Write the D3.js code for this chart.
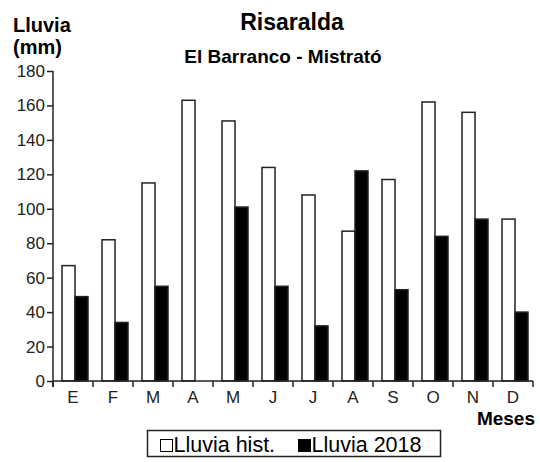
<!DOCTYPE html>
<html><head><meta charset="utf-8">
<script src="https://cdn.jsdelivr.net/npm/d3@7"></script>
<style>body{margin:0;background:#fff}svg{display:block;font-family:"Liberation Sans",Arial,sans-serif}</style>
</head><body>
<svg id="chart" width="540" height="462"></svg>
<script>
const months = ["E","F","M","A","M","J","J","A","S","O","N","D"];
const series = ["Lluvia hist.","Lluvia 2018"];
const lluviaHist = [67,82,115,163,151,124,108,87,117,162,156,94];
const lluvia2018 = [49,34,55,0,101,55,32,122,53,84,94,40];
const yTicks = [0,20,40,60,80,100,120,140,160,180];

const svg = d3.select("#chart");
const W = 540, H = 462;
const m = {left:53, right:7, top:71, bottom:81};
const x = d3.scaleBand().domain(d3.range(months.length)).range([m.left, W-m.right]).paddingInner(0).paddingOuter(0);
const y = d3.scaleLinear().domain([0,180]).range([H-m.bottom, m.top]);
const bw = x.bandwidth();
const x1 = d3.scaleBand().domain(series).range([bw*0.225, bw*0.875]);

const data = months.map((mo,i)=>({i, vals:[lluviaHist[i], lluvia2018[i]]}));
const g = svg.append("g");
const groups = g.selectAll("g.grp").data(data).join("g").attr("transform", d=>`translate(${x(d.i)},0)`);
groups.selectAll("rect").data(d=>d.vals.map((v,k)=>({k,v}))).join("rect")
  .filter(d=>d.v>0)
  .attr("x", d=>x1(series[d.k]))
  .attr("width", x1.bandwidth())
  .attr("y", d=>y(d.v))
  .attr("height", d=>y(0)-y(d.v))
  .attr("fill", d=>d.k===0?"#fff":"#000")
  .attr("stroke", "#222")
  .attr("stroke-width", 1.5);

// y axis
const yAxis = d3.axisLeft(y).tickValues(yTicks).tickSize(6).tickSizeOuter(0).tickPadding(2);
const ya = svg.append("g").attr("transform", `translate(${m.left},0)`).call(yAxis);
ya.selectAll("text").attr("font-size", 17).attr("fill", "#222").attr("font-family","Liberation Sans, Arial, sans-serif");
ya.select(".domain").attr("stroke","#222").attr("stroke-width",1.5).attr("d", `M0,${y(180)}V${y(0)+6}`);
ya.selectAll(".tick line").attr("stroke","#222").attr("stroke-width",1.5);

// x axis
const xa = svg.append("g").attr("transform", `translate(0,${y(0)})`);
xa.append("line").attr("x1", m.left).attr("x2", W-m.right).attr("y1",0).attr("y2",0).attr("stroke","#222").attr("stroke-width",1.5);
const bounds = d3.range(months.length+1).map(i=> i<months.length ? x(i) : x(months.length-1)+bw);
xa.selectAll("line.tk").data(bounds).join("line").attr("class","tk")
  .attr("x1", d=>d).attr("x2", d=>d).attr("y1",0).attr("y2",6).attr("stroke","#222").attr("stroke-width",1.5);
xa.selectAll("text").data(months).join("text")
  .attr("x", (d,i)=>x(i)+bw/2).attr("y", 22).attr("text-anchor","middle")
  .attr("font-size",17).attr("fill","#222").text(d=>d);

// titles
svg.append("text").attr("x",292).attr("y",30).attr("text-anchor","middle").attr("font-weight","bold").attr("font-size",23).text("Risaralda");
svg.append("text").attr("x",283).attr("y",63).attr("text-anchor","middle").attr("font-weight","bold").attr("font-size",19).text("El Barranco - Mistrató");
svg.append("text").attr("x",13).attr("y",32).attr("font-weight","bold").attr("font-size",20).text("Lluvia");
svg.append("text").attr("x",13).attr("y",54).attr("font-weight","bold").attr("font-size",20).text("(mm)");
svg.append("text").attr("x",535).attr("y",425).attr("text-anchor","end").attr("font-weight","bold").attr("font-size",19).text("Meses");

// legend
const lg = svg.append("g");
lg.append("rect").attr("x",147.5).attr("y",430.5).attr("width",293).attr("height",26).attr("fill","#fff").attr("stroke","#222").attr("stroke-width",1.5);
const items = [{label:series[0], fill:"#fff", x:160.5},{label:series[1], fill:"#000", x:298.5}];
items.forEach(it=>{
  lg.append("rect").attr("x",it.x).attr("y",439.5).attr("width",12).attr("height",12).attr("fill",it.fill).attr("stroke","#000").attr("stroke-width",1);
  lg.append("text").attr("x",it.x+13).attr("y",452).attr("font-size",21.5).text(it.label);
});
</script>
</body></html>
